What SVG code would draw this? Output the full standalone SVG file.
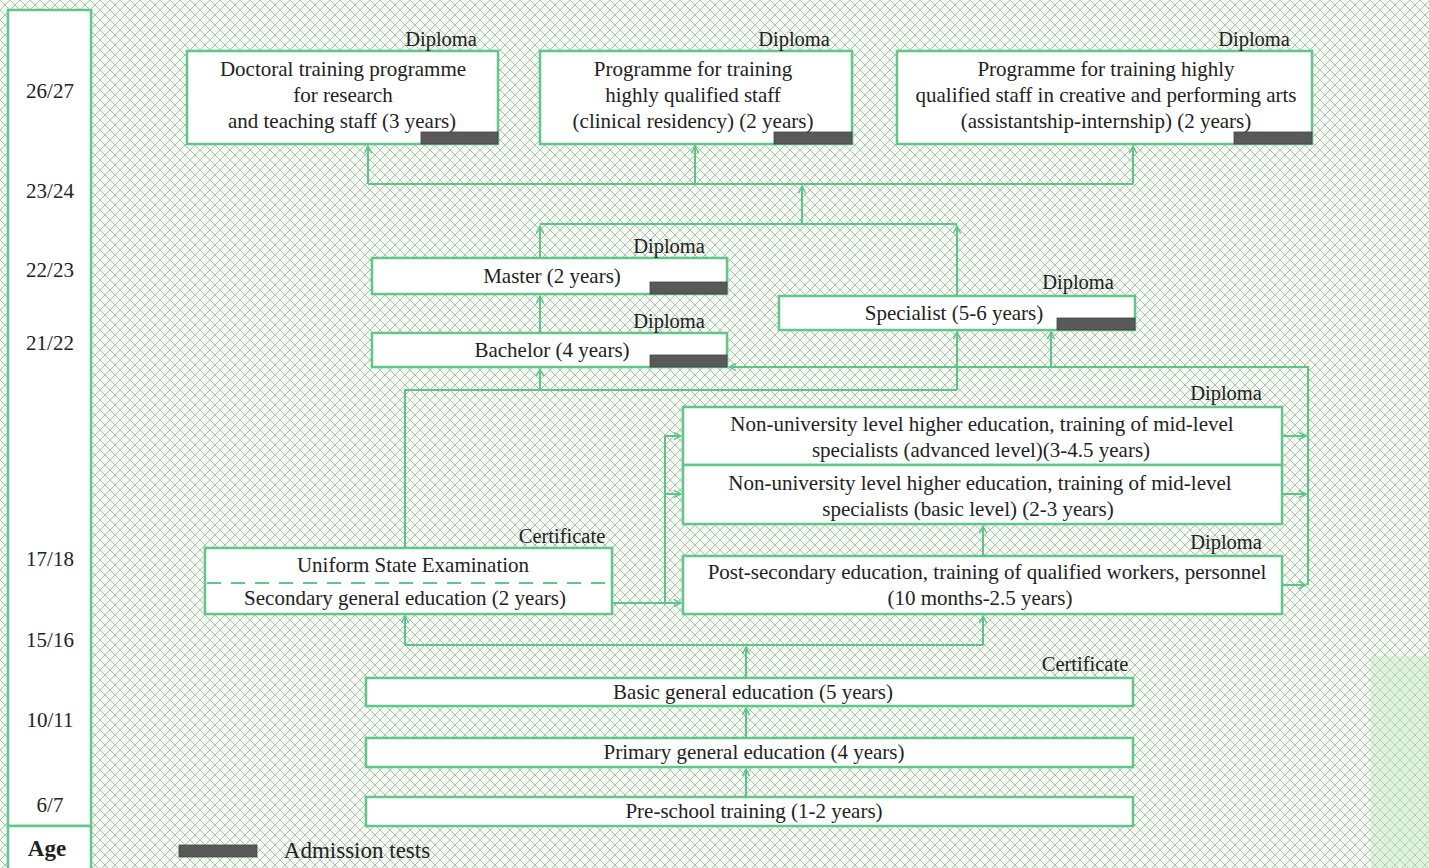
<svg xmlns="http://www.w3.org/2000/svg" width="1429" height="868" viewBox="0 0 1429 868">
<defs>
<pattern id="hatch" width="10" height="10" patternUnits="userSpaceOnUse">
<rect width="10" height="10" fill="#f3faf1"/>
<path d="M0,0 L10,10 M10,0 L0,10" stroke="#a8b2a8" stroke-width="0.85"/>
</pattern>
<marker id="ah" viewBox="0 0 10 10" refX="9" refY="5" markerWidth="9" markerHeight="9" markerUnits="userSpaceOnUse" orient="auto">
<path d="M1,1 L9,5 L1,9" fill="none" stroke="#5cc585" stroke-width="1.6"/>
</marker>
</defs>
<style>
.box{fill:#ffffff;stroke:#62c68a;stroke-width:2.5}
.bar{fill:#595959;stroke:#444;stroke-width:0.8}
.t{font-family:"Liberation Serif","Times New Roman",serif;font-size:21px;fill:#222;text-anchor:middle;dominant-baseline:central}
.lab{font-family:"Liberation Serif","Times New Roman",serif;font-size:20.5px;fill:#222;text-anchor:middle;dominant-baseline:central}
.big{font-size:23px}
.c{fill:none;stroke:#5cc585;stroke-width:2}
.ca{fill:none;stroke:#5cc585;stroke-width:2;marker-end:url(#ah)}
</style>
<rect width="1429" height="868" fill="url(#hatch)"/>
<rect x="1371" y="656" width="58" height="212" fill="#bfe8bf" opacity="0.4"/>

<g id="age">
<rect class="box" x="8" y="10" width="83" height="816"/>
<rect class="box" x="8" y="826" width="83" height="46"/>
<text class="t" x="50" y="91">26/27</text>
<text class="t" x="50" y="191">23/24</text>
<text class="t" x="50" y="270">22/23</text>
<text class="t" x="50" y="343">21/22</text>
<text class="t" x="50" y="559">17/18</text>
<text class="t" x="50" y="640">15/16</text>
<text class="t" x="50" y="720">10/11</text>
<text class="t" x="50" y="805">6/7</text>
<text class="t big" x="47" y="848" font-weight="bold">Age</text>
</g>

<g id="connectors">
<path class="c" d="M368,184 H1133"/>
<path class="ca" d="M368,184 V146"/>
<path class="ca" d="M695,184 V146"/>
<path class="ca" d="M1133,184 V146"/>
<path class="ca" d="M802,224 V186"/>
<path class="c" d="M540,224 H957"/>
<path class="ca" d="M540,258 V226"/>
<path class="ca" d="M957,296 V226"/>
<path class="ca" d="M540,333 V296"/>
<path class="c" d="M405,548 V390 H957"/>
<path class="ca" d="M957,390 V332"/>
<path class="ca" d="M540,390 V369"/>
<path class="ca" d="M1308,585 V367 H729"/>
<path class="ca" d="M1051,367 V332"/>
<path class="ca" d="M1282,436 H1306"/>
<path class="ca" d="M1282,494 H1306"/>
<path class="ca" d="M1282,585 H1306"/>
<path class="ca" d="M612,603 H681"/>
<path class="ca" d="M665,603 V436 H681"/>
<path class="ca" d="M665,494 H681"/>
<path class="ca" d="M983,556 V526"/>
<path class="c" d="M405,645 H983"/>
<path class="ca" d="M405,645 V616"/>
<path class="ca" d="M983,645 V616"/>
<path class="ca" d="M746,678 V647"/>
<path class="ca" d="M746,738 V708"/>
<path class="ca" d="M746,797 V769"/>
</g>

<g id="doctoral">
<rect class="box" x="187" y="51" width="311" height="93"/>
<rect class="bar" x="421" y="132" width="77" height="12"/>
<text class="t" x="343" y="69">Doctoral training programme</text>
<text class="t" x="343" y="95">for research</text>
<text class="t" x="342" y="121">and teaching staff (3 years)</text>
<text class="lab" x="441" y="39">Diploma</text>
</g>

<g id="residency">
<rect class="box" x="540" y="51" width="312" height="93"/>
<rect class="bar" x="774" y="132" width="78" height="12"/>
<text class="t" x="693" y="69">Programme for training</text>
<text class="t" x="693" y="95">highly qualified staff</text>
<text class="t" x="693" y="121">(clinical residency) (2 years)</text>
<text class="lab" x="794" y="39">Diploma</text>
</g>

<g id="assistantship">
<rect class="box" x="897" y="51" width="415" height="93"/>
<rect class="bar" x="1234" y="132" width="78" height="12"/>
<text class="t" x="1106" y="69">Programme for training highly</text>
<text class="t" x="1106" y="95">qualified staff in creative and performing arts</text>
<text class="t" x="1106" y="121">(assistantship-internship) (2 years)</text>
<text class="lab" x="1254" y="39">Diploma</text>
</g>

<g id="master">
<rect class="box" x="372" y="258" width="355" height="36"/>
<rect class="bar" x="650" y="282" width="77" height="12"/>
<text class="t" x="552" y="276">Master (2 years)</text>
<text class="lab" x="669" y="246">Diploma</text>
</g>

<g id="bachelor">
<rect class="box" x="372" y="333" width="355" height="34"/>
<rect class="bar" x="650" y="355" width="77" height="12"/>
<text class="t" x="552" y="350">Bachelor (4 years)</text>
<text class="lab" x="669" y="321">Diploma</text>
</g>

<g id="specialist">
<rect class="box" x="779" y="296" width="356" height="34"/>
<rect class="bar" x="1057" y="318" width="78" height="12"/>
<text class="t" x="954" y="313">Specialist (5-6 years)</text>
<text class="lab" x="1078" y="282">Diploma</text>
</g>

<g id="nu-advanced">
<rect class="box" x="683" y="407" width="599" height="58"/>
<text class="t" x="982" y="424">Non-university level higher education, training of mid-level</text>
<text class="t" x="981" y="450">specialists (advanced level)(3-4.5 years)</text>
<text class="lab" x="1226" y="393">Diploma</text>
</g>

<g id="nu-basic">
<rect class="box" x="683" y="465" width="599" height="59"/>
<text class="t" x="980" y="483">Non-university level higher education, training of mid-level</text>
<text class="t" x="968" y="509">specialists (basic level) (2-3 years)</text>
</g>

<g id="post-secondary">
<rect class="box" x="683" y="556" width="599" height="58"/>
<text class="t" x="987" y="572">Post-secondary  education, training of qualified workers, personnel</text>
<text class="t" x="980" y="598">(10 months-2.5 years)</text>
<text class="lab" x="1226" y="542">Diploma</text>
</g>

<g id="secondary">
<rect class="box" x="205" y="548" width="407" height="66"/>
<path d="M207,583 H610" stroke="#62c68a" stroke-width="2" stroke-dasharray="14,10" fill="none"/>
<text class="t" x="413" y="565">Uniform State Examination</text>
<text class="t" x="405" y="598">Secondary general education (2 years)</text>
<text class="lab" x="562" y="536">Certificate</text>
</g>

<g id="basic">
<rect class="box" x="366" y="678" width="767" height="28"/>
<text class="t" x="753" y="692">Basic general education (5 years)</text>
<text class="lab" x="1085" y="664">Certificate</text>
</g>

<g id="primary">
<rect class="box" x="366" y="738" width="767" height="29"/>
<text class="t" x="754" y="752">Primary general education (4 years)</text>
</g>

<g id="preschool">
<rect class="box" x="366" y="797" width="767" height="29"/>
<text class="t" x="754" y="811">Pre-school training (1-2 years)</text>
</g>

<g id="legend">
<rect class="bar" x="179" y="845" width="78" height="12"/>
<text class="t big" x="357" y="850">Admission tests</text>
</g>
</svg>
